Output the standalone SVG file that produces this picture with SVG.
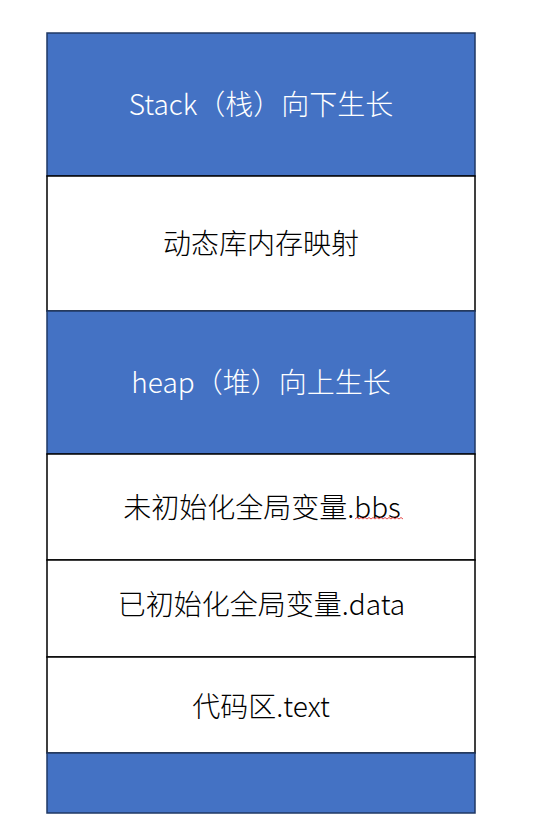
<svg xmlns="http://www.w3.org/2000/svg" width="546" height="837" viewBox="0 0 546 837">
<style>
.blue{fill:#4472C4;stroke:#1F3864;stroke-width:1.5}
.white{fill:#FFFFFF;stroke:#000000;stroke-width:1.5}
.lt{font-family:"Noto Sans CJK SC","Noto Sans",sans-serif;font-size:28px;font-weight:300;text-anchor:middle;dominant-baseline:central}
.lw{fill:#FFFFFF}
.lb{fill:#000000}
</style>
<rect width="546" height="837" fill="#FFFFFF"/>
<g id="stack"><rect class="blue" x="47" y="33" width="428" height="143"/><text class="lt lw" x="261" y="103">Stack（栈）向下生长</text></g>
<g id="mmap"><rect class="white" x="47" y="176" width="428" height="135"/><text class="lt lb" x="261" y="242">动态库内存映射</text></g>
<g id="heap"><rect class="blue" x="47" y="311" width="428" height="143"/><text class="lt lw" x="261" y="381">heap（堆）向上生长</text></g>
<g id="bbs"><rect class="white" x="47" y="454" width="428" height="106"/><text class="lt lb" x="262" y="506">未初始化全局变量.bbs</text>
<path d="M355 519 l2 -1.5 l2 1.5 l2 -1.5 l2 1.5 l2 -1.5 l2 1.5 l2 -1.5 l2 1.5 l2 -1.5 l2 1.5 l2 -1.5 l2 1.5 l2 -1.5 l2 1.5 l2 -1.5 l2 1.5 l2 -1.5 l2 1.5 l2 -1.5 l2 1.5 l2 -1.5 l2 1.5 l2 -1.5 l2 1.5" fill="none" stroke="#E02020" stroke-width="0.8"/></g>
<g id="data"><rect class="white" x="47" y="560" width="428" height="97"/><text class="lt lb" x="261.5" y="603">已初始化全局变量.data</text></g>
<g id="text"><rect class="white" x="47" y="657" width="428" height="96"/><text class="lt lb" x="261" y="705">代码区.text</text></g>
<g id="bottom"><rect class="blue" x="47" y="753" width="428" height="60"/></g>
<g id="connectors"></g>
</svg>
